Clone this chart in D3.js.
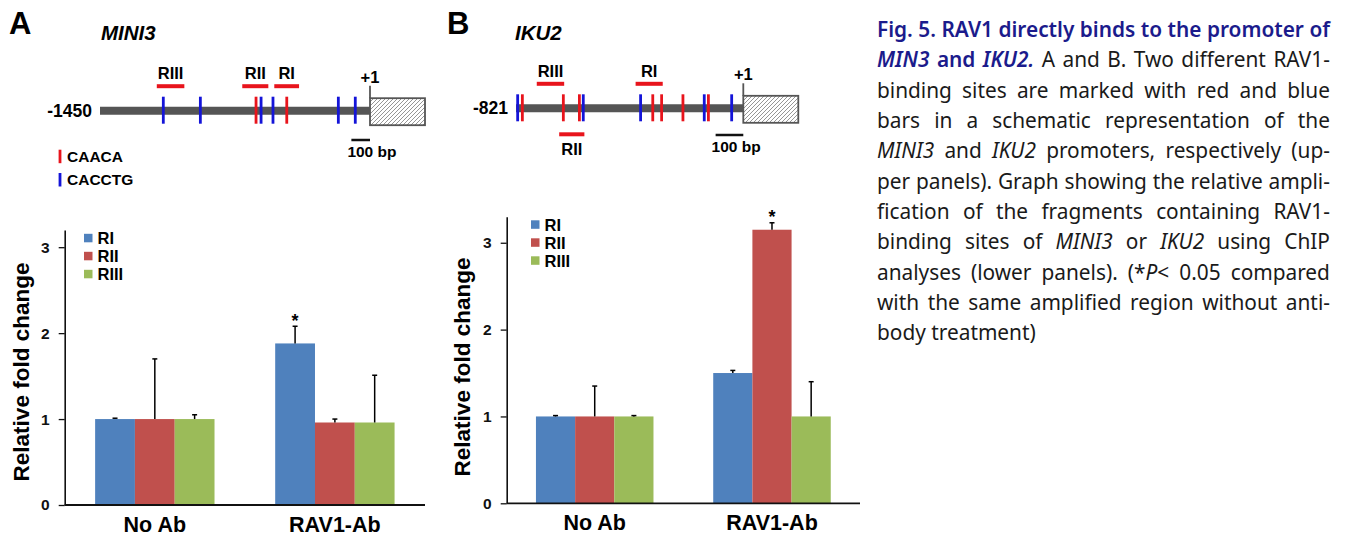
<!DOCTYPE html>
<html><head><meta charset="utf-8">
<script src="https://cdn.jsdelivr.net/npm/d3@7"></script>
<style>body{margin:0;background:#fff} svg{display:block}</style>
</head><body><svg id="c" width="1348" height="539"></svg>
<script>
// ---------- data ----------
const groups = ["No Ab", "RAV1-Ab"];
const series = ["RI", "RII", "RIII"];
const colors = ["#4F81BD", "#C0504D", "#9BBB59"];
const valuesA = [[1.00, 1.00, 1.00], [1.88, 0.96, 0.96]];
const errorsA = [[0.01, 0.70, 0.05], [0.20, 0.04, 0.55]];
const valuesB = [[1.00, 1.00, 1.00], [1.50, 3.15, 1.00]];
const errorsB = [[0.01, 0.35, 0.01], [0.03, 0.08, 0.40]];
const yTicks = [0, 1, 2, 3];
const starA = [1, 0];
const starB = [1, 1];
// promoter schematics, positions in bp
const sitesARed = [-612, -447];
const sitesABlue = [-1110, -911, -585, -521, -170, -79];
const regionsA = [["RIII", -1145, -997, "above"], ["RII", -686, -546, "above"], ["RI", -514, -381, "above"]];
const sitesBRed = [-798, -650, -592, -327, -295, -218, -126];
const sitesBBlue = [-815, -578, -371, -141, -42];
const regionsB = [["RIII", -746, -647, "above"], ["RII", -665, -574, "below"], ["RI", -389, -291, "above"]];
const motifLegend = [["CAACA", "#e8141c"], ["CACCTG", "#1414d8"]];

const captionLines = [
  [["Fig. 5. RAV1 directly binds to the promoter of", "t"]],
  [["MIN3", "ti"], [" and ", "t"], ["IKU2.", "ti"], [" A and B. Two different RAV1-", "n"]],
  [["binding sites are marked with red and blue", "n"]],
  [["bars in a schematic representation of the", "n"]],
  [["MINI3", "i"], [" and ", "n"], ["IKU2", "i"], [" promoters, respectively (up-", "n"]],
  [["per panels). Graph showing the relative ampli-", "n"]],
  [["fication of the fragments containing RAV1-", "n"]],
  [["binding sites of ", "n"], ["MINI3", "i"], [" or ", "n"], ["IKU2", "i"], [" using ChIP", "n"]],
  [["analyses (lower panels). (*", "n"], ["P", "i"], ["< 0.05 compared", "n"]],
  [["with the same amplified region without anti-", "n"]],
  [["body treatment)", "n"]]
];

const RED = "#e8141c", BLUE = "#1414d8";
const svg = d3.select("#c");
const SANS = "'Liberation Sans', Arial, sans-serif";

// hatch pattern
svg.append("defs").append("pattern")
  .attr("id", "hatch").attr("patternUnits", "userSpaceOnUse")
  .attr("width", 4).attr("height", 4)
  .append("path").attr("d", "M-1,1 l2,-2 M0,4 l4,-4 M3,5 l2,-2")
  .attr("stroke", "#8a8a8a").attr("stroke-width", 0.9);

// ---------- schematic ----------
function drawSchematic(cfg) {
  const g = svg.append("g");
  const xs = d3.scaleLinear().domain([cfg.start, 0]).range([cfg.x0, cfg.x1]);
  g.append("text").attr("x", cfg.letterX).attr("y", 33.5).text(cfg.letter)
    .attr("font-family", SANS).attr("font-weight", "bold").attr("font-size", 31);
  g.append("text").attr("x", cfg.geneX).attr("y", 40).text(cfg.gene)
    .attr("font-family", SANS).attr("font-weight", "bold").attr("font-style", "italic").attr("font-size", 20.5);
  g.append("text").attr("x", cfg.x0 - 8).attr("y", cfg.ly + 6).attr("text-anchor", "end")
    .text(String(cfg.start)).attr("font-family", SANS).attr("font-weight", "bold").attr("font-size", 17.5);
  g.append("line").attr("x1", xs(cfg.start)).attr("x2", xs(0)).attr("y1", cfg.ly).attr("y2", cfg.ly)
    .attr("stroke", "#555").attr("stroke-width", 8);
  g.append("rect").attr("x", xs(0)).attr("y", cfg.ly - 12.5).attr("width", cfg.boxW).attr("height", 27)
    .attr("fill", "url(#hatch)").attr("stroke", "#555").attr("stroke-width", 1.8);
  g.append("line").attr("x1", xs(0)).attr("x2", xs(0)).attr("y1", cfg.ly - 25).attr("y2", cfg.ly - 12.5)
    .attr("stroke", "#555").attr("stroke-width", 1.8);
  g.append("text").attr("x", xs(0)).attr("y", cfg.ly - 28).attr("text-anchor", "middle").text("+1")
    .attr("font-family", SANS).attr("font-weight", "bold").attr("font-size", 16.5);
  const site = (arr, col) => g.selectAll(null).data(arr).enter().append("line")
    .attr("x1", d => xs(d)).attr("x2", d => xs(d)).attr("y1", cfg.ly - 14).attr("y2", cfg.ly + 13)
    .attr("stroke", col).attr("stroke-width", 2.8);
  site(cfg.blue, BLUE); site(cfg.red, RED);
  cfg.regions.forEach(r => {
    const yb = r[3] === "above" ? cfg.ly - 24.5 : cfg.ly + 26;
    g.append("line").attr("x1", xs(r[1])).attr("x2", xs(r[2])).attr("y1", yb).attr("y2", yb)
      .attr("stroke", RED).attr("stroke-width", 4);
    const ty = r[3] === "above" ? yb - 7 : yb + 20.5;
    g.append("text").attr("x", (xs(r[1]) + xs(r[2])) / 2).attr("y", ty).attr("text-anchor", "middle")
      .text(r[0]).attr("font-family", SANS).attr("font-weight", "bold").attr("font-size", 16.5);
  });
  g.append("line").attr("x1", xs(-100)).attr("x2", xs(0)).attr("y1", cfg.sbY).attr("y2", cfg.sbY)
    .attr("stroke", "#111").attr("stroke-width", 2.5);
  g.append("text").attr("x", xs(-100) - 4).attr("y", cfg.sbY + 16.5).text("100 bp")
    .attr("font-family", SANS).attr("font-weight", "bold").attr("font-size", 15.5);
}

drawSchematic({letter: "A", letterX: 9, gene: "MINI3", geneX: 101, start: -1450, x0: 100, x1: 370, ly: 110.7,
  boxW: 55, blue: sitesABlue, red: sitesARed, regions: regionsA, sbY: 140});
drawSchematic({letter: "B", letterX: 447, gene: "IKU2", geneX: 515, start: -821, x0: 516, x1: 743.3, ly: 108.3,
  boxW: 55, blue: sitesBBlue, red: sitesBRed, regions: regionsB, sbY: 135});

// motif legend (panel A)
motifLegend.forEach((m, i) => {
  const y = 161.7 + i * 23.3;
  svg.append("line").attr("x1", 60).attr("x2", 60).attr("y1", y - 12).attr("y2", y + 1.5)
    .attr("stroke", m[1]).attr("stroke-width", 2.8);
  svg.append("text").attr("x", 67).attr("y", y).text(m[0])
    .attr("font-family", SANS).attr("font-weight", "bold").attr("font-size", 15.5);
});

// ---------- bar charts ----------
function drawChart(cfg) {
  const g = svg.append("g");
  const y = d3.scaleLinear().domain([0, cfg.yMax]).range([cfg.y0, cfg.yTop]);
  const x0 = d3.scaleBand().domain(groups).range([cfg.xL, cfg.xR]).paddingInner(0.337).paddingOuter(cfg.po);
  const x1 = d3.scaleBand().domain(series).range([0, x0.bandwidth()]);
  const data = [];
  groups.forEach((gr, gi) => series.forEach((s, si) =>
    data.push({gr, s, si, gi, v: cfg.values[gi][si], e: cfg.errors[gi][si]})));
  g.selectAll("rect.bar").data(data).enter().append("rect")
    .attr("x", d => x0(d.gr) + x1(d.s)).attr("width", x1.bandwidth())
    .attr("y", d => y(d.v)).attr("height", d => y(0) - y(d.v))
    .attr("fill", d => colors[d.si]);
  // error bars
  const cx = d => x0(d.gr) + x1(d.s) + x1.bandwidth() / 2;
  const eb = g.selectAll("g.eb").data(data).enter().append("g");
  eb.append("line").attr("x1", cx).attr("x2", cx)
    .attr("y1", d => y(d.v)).attr("y2", d => y(d.v + d.e)).attr("stroke", "#000").attr("stroke-width", 1.5);
  eb.append("line").attr("x1", d => cx(d) - 2.5).attr("x2", d => cx(d) + 2.5)
    .attr("y1", d => y(d.v + d.e)).attr("y2", d => y(d.v + d.e)).attr("stroke", "#000").attr("stroke-width", 1.5);
  // star
  const sd = data.find(d => d.gi === cfg.star[0] && d.si === cfg.star[1]);
  g.append("text").attr("x", cx(sd)).attr("y", y(sd.v + sd.e) + 0.5)
    .attr("text-anchor", "middle").text("*").attr("font-family", SANS).attr("font-weight", "bold").attr("font-size", 18);
  // axes
  const ax = g.append("g").attr("transform", `translate(${cfg.xL},0)`)
    .call(d3.axisLeft(y).tickValues(yTicks).tickSize(6).tickSizeOuter(0).tickPadding(9).tickFormat(d3.format("d")));
  ax.select(".domain").attr("stroke", "#111").attr("stroke-width", 1.6);
  ax.selectAll(".tick line").attr("stroke", "#111").attr("stroke-width", 1.3);
  ax.selectAll(".tick text").attr("font-family", SANS).attr("font-weight", "bold").attr("font-size", 15.5).attr("fill", "#111");
  g.append("line").attr("x1", cfg.xL).attr("x2", cfg.xR).attr("y1", y(0)).attr("y2", y(0))
    .attr("stroke", "#111").attr("stroke-width", 1.8);
  g.selectAll("text.xl").data(groups).enter().append("text")
    .attr("x", d => x0(d) + x0.bandwidth() / 2).attr("y", cfg.xlY).attr("text-anchor", "middle").text(d => d)
    .attr("font-family", SANS).attr("font-weight", "bold").attr("font-size", 21.5);
  g.append("text").attr("transform", `translate(${cfg.ytX},${cfg.ytY}) rotate(-90)`)
    .attr("text-anchor", "middle").text("Relative fold change")
    .attr("font-family", SANS).attr("font-weight", "bold").attr("font-size", 22.5);
  // legend
  series.forEach((s, i) => {
    const ly = cfg.legY + i * 18;
    g.append("rect").attr("x", cfg.legX).attr("y", ly - 4.2).attr("width", 8.5).attr("height", 8.5).attr("fill", colors[i]);
    g.append("text").attr("x", cfg.legX + 13.5).attr("y", ly + 6).text(s)
      .attr("font-family", SANS).attr("font-weight", "bold").attr("font-size", 16.5);
  });
}

drawChart({values: valuesA, errors: errorsA, star: starA, yMax: 3.2, y0: 505, yTop: 230, xL: 64.7, xR: 425, po: 0.169,
  xlY: 532, ytX: 29, ytY: 372, legX: 84, legY: 238});
drawChart({values: valuesB, errors: errorsB, star: starB, yMax: 3.3, y0: 503.3, yTop: 216.7, xL: 506.7, xR: 860, po: 0.165,
  xlY: 530, ytX: 470, ytY: 367, legX: 531, legY: 224.5});

// ---------- caption ----------
const CAPF = "'Noto Sans', 'Open Sans', sans-serif";
const capX = 877, capW = 453, capFS = 22;
const styles = {
  t: {fill: "#1b1b8c", weight: "600", italic: false},
  ti: {fill: "#1b1b8c", weight: "600", italic: true},
  n: {fill: "#1a1a1a", weight: "normal", italic: false},
  i: {fill: "#1a1a1a", weight: "normal", italic: true}
};
function toWords(runs) {
  const words = []; let cur = [];
  runs.forEach(r => {
    r[0].split(" ").forEach((p, i) => {
      if (i > 0) { if (cur.length) words.push(cur); cur = []; }
      if (p.length) cur.push([p, r[1]]);
    });
  });
  if (cur.length) words.push(cur);
  return words;
}
const capG = svg.append("g");
const measureG = svg.append("g").attr("opacity", 0);
function makeWord(parent, w) {
  const t = parent.append("text").attr("font-family", CAPF).attr("font-size", capFS);
  w.forEach(run => {
    const st = styles[run[1]];
    t.append("tspan").text(run[0]).attr("fill", st.fill).attr("font-weight", st.weight)
      .attr("font-style", st.italic ? "italic" : "normal");
  });
  return t;
}
const sp1 = makeWord(measureG, [["x x", "n"]]).node().getComputedTextLength();
const sp0 = makeWord(measureG, [["xx", "n"]]).node().getComputedTextLength();
const spaceW = sp1 - sp0;
const lineWords = captionLines.map(toWords);
const lineInfo = lineWords.map(ws => {
  const widths = ws.map(w => makeWord(measureG, w).node().getComputedTextLength());
  const sum = d3.sum(widths);
  return {widths, sum, natural: sum + (ws.length - 1) * spaceW};
});
measureG.remove();
const sx = Math.min(1, capW / d3.max(lineInfo.slice(0, -1), d => d.natural));
const W = capW / sx;
const capInner = capG.attr("transform", `translate(${capX},0) scale(${sx},1)`);
lineWords.forEach((ws, li) => {
  const info = lineInfo[li];
  const last = li === lineWords.length - 1;
  const gap = last ? spaceW : (W - info.sum) / (ws.length - 1);
  let x = 0;
  const by = 37 + li * 30.35;
  ws.forEach((w, wi) => {
    makeWord(capInner, w).attr("x", x).attr("y", by);
    x += info.widths[wi] + gap;
  });
});
</script></body></html>
